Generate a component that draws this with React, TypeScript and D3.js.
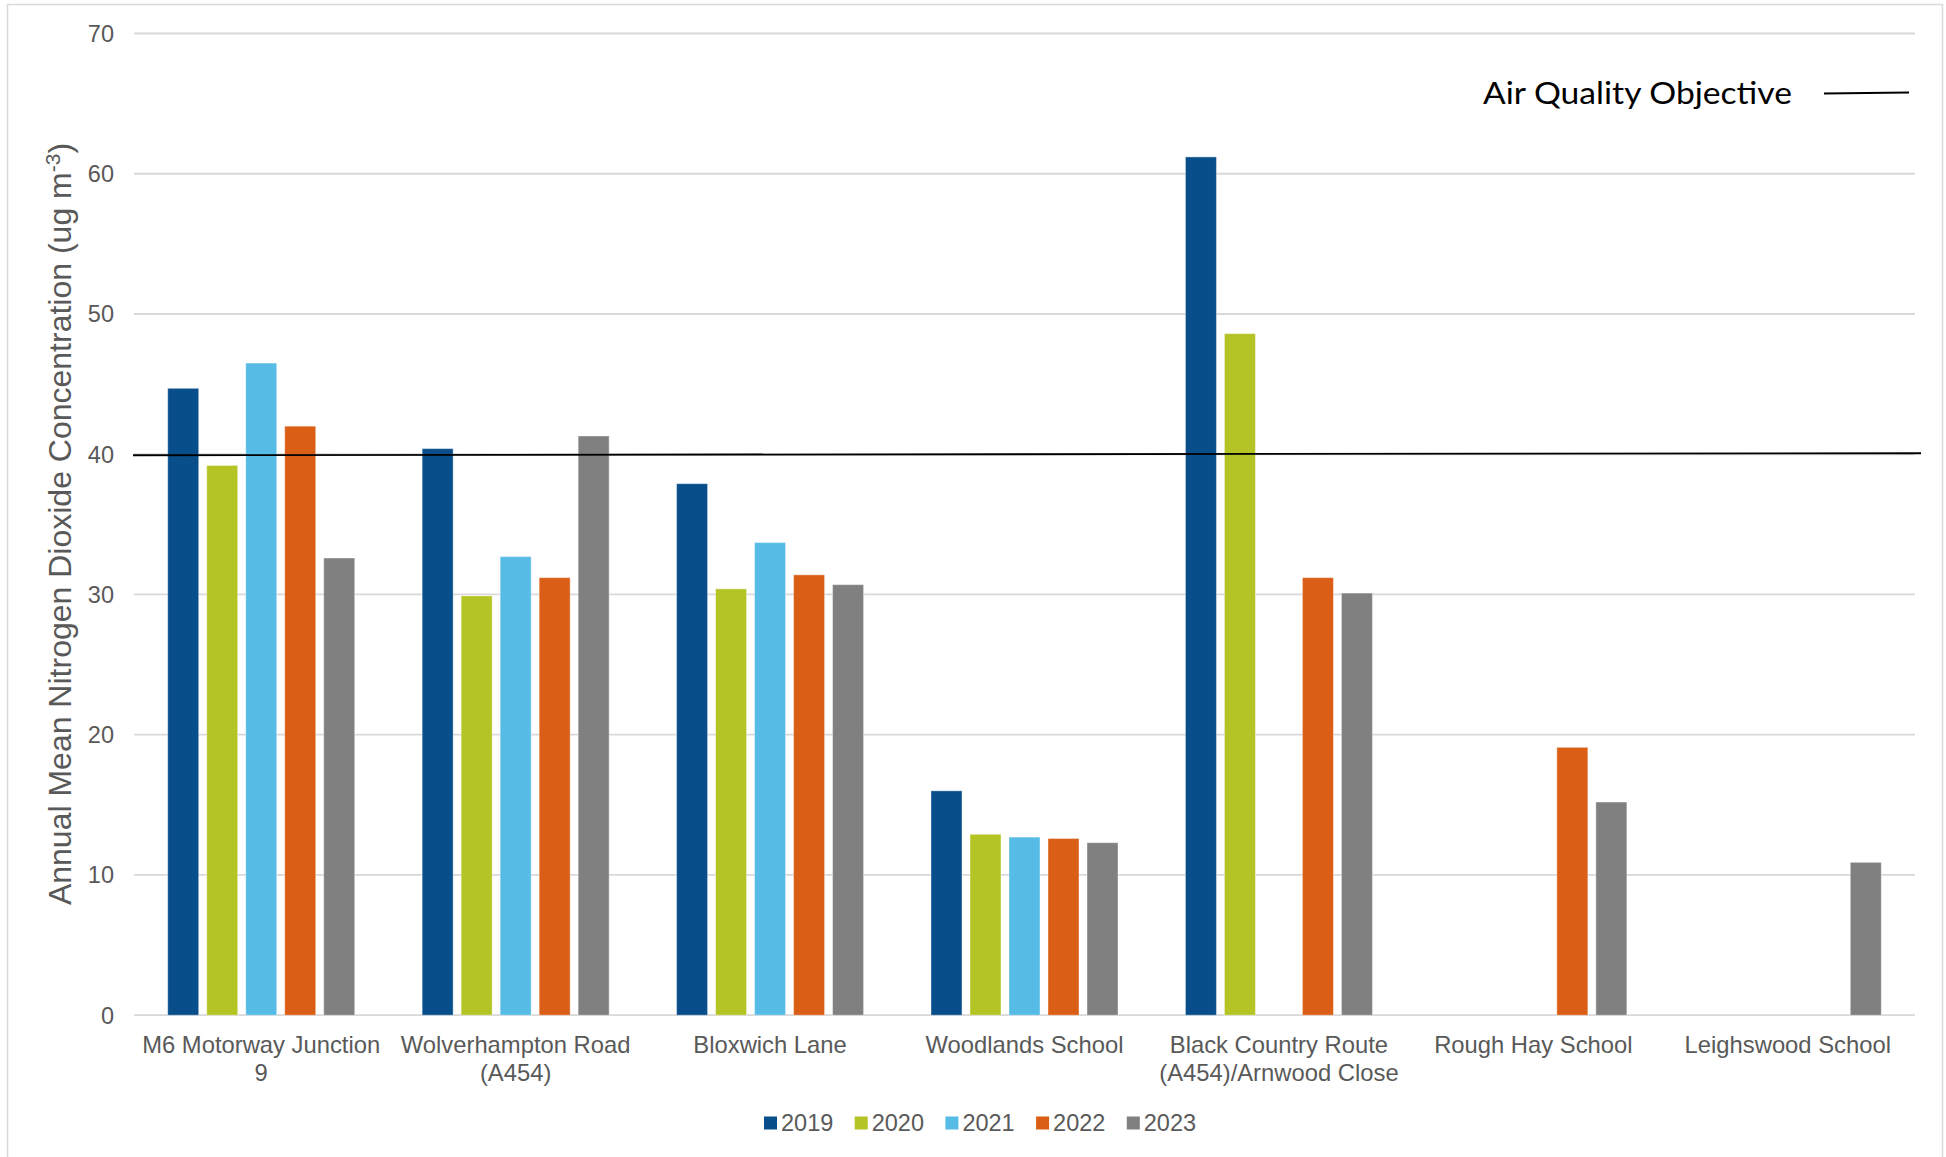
import React from "react";
import * as d3 from "d3";

const categories = [
  ["M6 Motorway Junction", "9"],
  ["Wolverhampton Road", "(A454)"],
  ["Bloxwich Lane"],
  ["Woodlands School"],
  ["Black Country Route", "(A454)/Arnwood Close"],
  ["Rough Hay School"],
  ["Leighswood School"],
];
const years = ["2019", "2020", "2021", "2022", "2023"];
const colors = ["#074E8B", "#B4C425", "#56BCE6", "#DA5E15", "#808080"];
const v2019 = [44.7, 40.4, 37.9, 16.0, 61.2, null, null];
const v2020 = [39.2, 29.9, 30.4, 12.9, 48.6, null, null];
const v2021 = [46.5, 32.7, 33.7, 12.7, null, null, null];
const v2022 = [42.0, 31.2, 31.4, 12.6, 31.2, 19.1, null];
const v2023 = [32.6, 41.3, 30.7, 12.3, 30.1, 15.2, 10.9];
const series = [v2019, v2020, v2021, v2022, v2023];
const yTicks = [0, 10, 20, 30, 40, 50, 60, 70];
const objective = 40;

export default function App() {
  const W = 1946, H = 1157;
  const left = 134, right = 1915, top = 33.5, bottom = 1015.2;
  const font = "'Liberation Sans', Arial, sans-serif";
  const grey = "#595959";
  const labels = categories.map((c) => c.join(" "));
  const x0 = d3.scaleBand<string>().domain(labels).range([left, right]);
  const bw = x0.bandwidth();
  const gw = 187;
  const x1 = d3.scaleBand<string>().domain(years).range([(bw - gw) / 2, (bw + gw) / 2]).paddingInner(8 / 39);
  const y = d3.scaleLinear().domain([0, 70]).range([bottom, top]);
  const legendX = d3.scaleBand<string>().domain(years).range([764, 764 + 90.7 * 5]);

  return (
    <svg width={W} height={H} style={{ position: "absolute", left: 0, top: 0, background: "#fff" }}>
      <rect x={7.5} y={4.5} width={1935} height={1170} fill="#fff" stroke="#d9d9d9" strokeWidth={1.5} />
      {yTicks.map((t) => (
        <g key={t}>
          <line x1={left} x2={right} y1={y(t)} y2={y(t)} stroke="#d9d9d9" strokeWidth={1.8} />
          <text x={114} y={y(t)} dy="0.36em" textAnchor="end" fontFamily={font} fontSize={23.5} fill={grey}>{t}</text>
        </g>
      ))}
      {series.map((vals, si) =>
        vals.map((v, ci) =>
          v == null ? null : (
            <rect
              key={si + "-" + ci}
              x={(x0(labels[ci]) as number) + (x1(years[si]) as number)}
              y={y(v)}
              width={x1.bandwidth()}
              height={y(0) - y(v)}
              fill={colors[si]}
              stroke="#ffffff"
              strokeOpacity={0.4}
              strokeWidth={1}
            />
          )
        )
      )}
      <line x1={133} x2={1921} y1={y(objective) + 1} y2={y(objective) - 1} stroke="#000" strokeWidth={1.8} />
      {categories.map((c, ci) => (
        <text key={ci} x={(x0(labels[ci]) as number) + bw / 2} y={1053} textAnchor="middle" fontFamily={font} fontSize={23.8} fill={grey}>
          {c.map((line, li) => (
            <tspan key={li} x={(x0(labels[ci]) as number) + bw / 2} dy={li === 0 ? 0 : 27.5}>{line}</tspan>
          ))}
        </text>
      ))}
      <text transform={`translate(71,524) rotate(-90)`} textAnchor="middle" fontFamily={font} fontSize={32} fill={grey}>
        Annual Mean Nitrogen Dioxide Concentration (ug m<tspan dy={-11} fontSize={21}>-3</tspan><tspan dy={11}>)</tspan>
      </text>
      {years.map((yr, i) => (
        <g key={yr}>
          <rect x={legendX(yr) as number} y={1116.5} width={13} height={13} fill={colors[i]} />
          <text x={(legendX(yr) as number) + 17} y={1123} dy="0.36em" fontFamily={font} fontSize={23.5} fill={grey}>{yr}</text>
        </g>
      ))}
      <text x={1483} y={93} dy="0.36em" fontFamily="Lato, 'Open Sans', sans-serif" fontSize={30} textLength={309} lengthAdjust="spacingAndGlyphs" fill="#000">Air Quality Objective</text>
      <line x1={1824} x2={1909} y1={93.5} y2={92.5} stroke="#000" strokeWidth={1.8} />
    </svg>
  );
}
